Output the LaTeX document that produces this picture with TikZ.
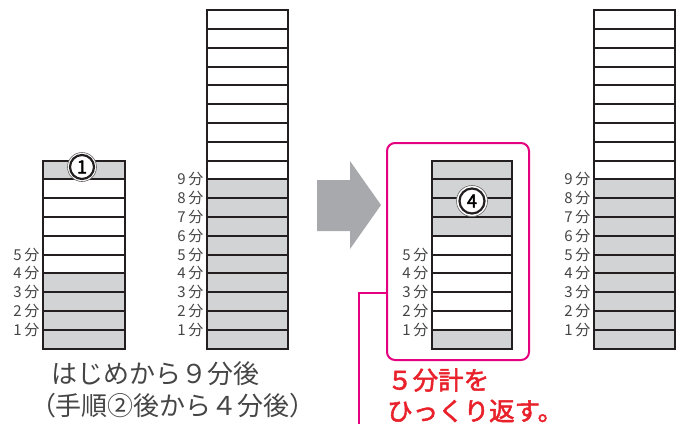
\documentclass[tikz,border=0pt]{standalone}
\usepackage{fontspec}
\setmainfont{Noto Sans CJK JP}
\newfontfamily\jpbold[FakeBold=2]{Noto Sans CJK JP}
\newfontfamily\jpring[FakeBold=2.5]{Noto Sans CJK JP}
\definecolor{ink}{HTML}{231F20}
\definecolor{cellgray}{HTML}{D1D3D4}
\definecolor{arrowgray}{HTML}{A7A9AC}
\definecolor{mag}{HTML}{E4007F}
\definecolor{redtxt}{HTML}{E8212B}
\definecolor{txtgray}{HTML}{454545}
\newcommand\ybot{348.5}
\newcommand\hh{18.8}
\newcommand\mystack[5]{%
  \foreach \i in {1,...,#3}
    \draw[cellw] (#1,{\ybot-\i*\hh}) rectangle (#2,{\ybot-(\i-1)*\hh});
  \foreach \i in {#4}
    \draw[cellg] (#1,{\ybot-\i*\hh}) rectangle (#2,{\ybot-(\i-1)*\hh});
  \foreach \i in {1,...,#5}
    \node[lbl] (lab-#1-\i) at (#1-3.5,{\ybot-\i*\hh}) {\i\hspace{2.5pt}分};
}
\begin{document}
\begin{tikzpicture}[x=1pt,y=-1pt,
  cellw/.style={draw=ink, fill=white, line width=2pt},
  cellg/.style={draw=ink, fill=cellgray, line width=2pt},
  lbl/.style={anchor=east, inner sep=0pt, text=txtgray, font=\fontsize{15}{15}\selectfont},
  disk/.style={circle, fill=white, draw=ink!70, line width=0.6pt, inner sep=0pt},
  ring/.style={circle, draw=ink, line width=2.2pt, inner sep=0pt, font=\jpring\fontsize{18}{18}\selectfont},
  graytext/.style={inner sep=0pt, text=txtgray, font=\fontsize{26}{27}\selectfont},
  redtext/.style={anchor=west, inner sep=0pt, text=redtxt, font=\jpbold\fontsize{25.5}{26}\selectfont},
  magline/.style={draw=mag, line width=1.6pt}
]
\useasboundingbox (0,0) rectangle (683,424);

% stacks
\mystack{43}{125}{10}{1,2,3,4,10}{5}
\mystack{207}{288}{18}{1,...,9}{9}
\mystack{432}{512}{10}{1,7,8,9,10}{5}
\mystack{594}{675}{18}{1,...,9}{9}

% circled step markers
\node[disk, minimum size=29pt] (c1) at (82,167) {};
\node[ring, minimum size=24pt] (c1in) at (c1) {1};
\node[disk, minimum size=31pt] (c4) at (472,201) {};
\node[ring, minimum size=25pt] (c4in) at (c4) {4};

% block arrow
\fill[arrowgray] (317,180) -- (350,180) -- (350,161) -- (381,205) -- (350,249) -- (350,231) -- (317,231) -- cycle;

% magenta frame and leader
\node[draw=mag, line width=2pt, rounded corners=8pt, minimum width=142pt, minimum height=217pt, inner sep=0pt] (box) at (458,251.5) {};
\coordinate (cend) at (359,424);
\draw[magline] (box.west |- 0,293) -| (cend);

% texts
\node[graytext] (t1) at (155,374) {はじめから９分後};
\node[graytext] (t2) at (173,406) {（手順②後から４分後）};
\node[redtext] (r1) at (387,380) {５分計を};
\node[redtext] (r2) at (387,411) {ひっくり返す。};
\end{tikzpicture}
\end{document}
